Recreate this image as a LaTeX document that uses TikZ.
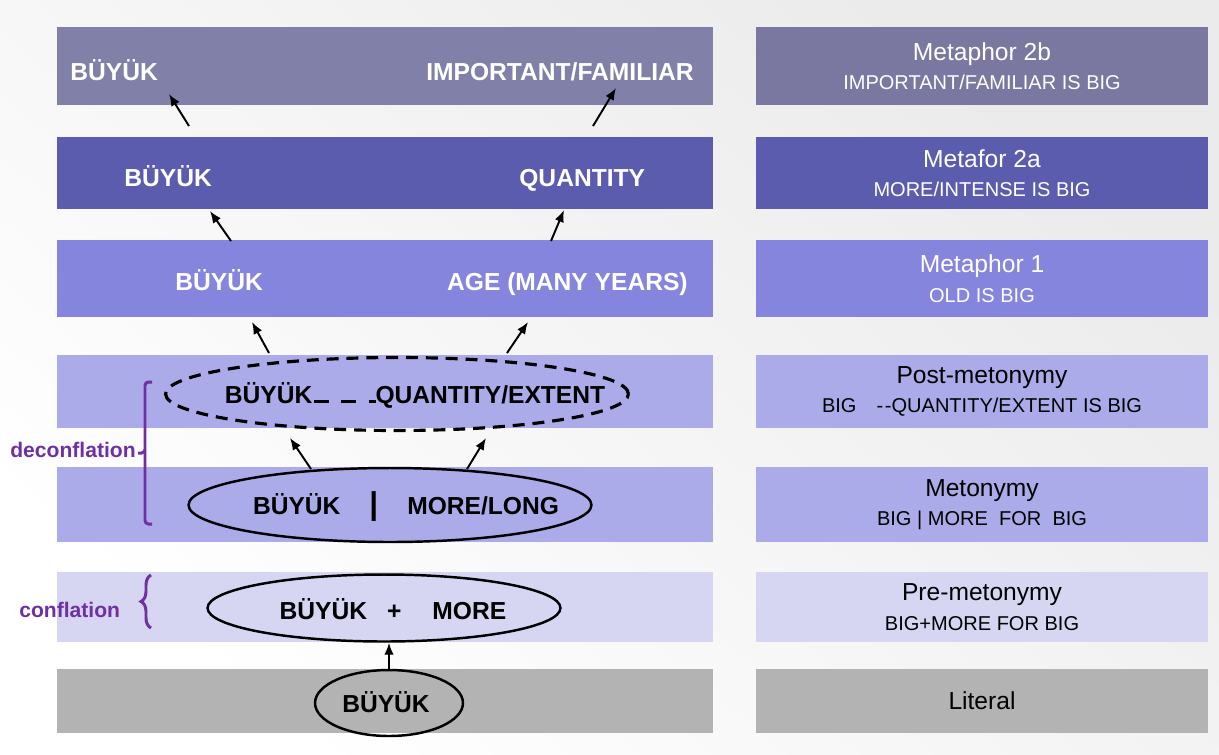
\documentclass[tikz,border=0pt]{standalone}
\usepackage{fontspec}
\setmainfont{Liberation Sans}
\usetikzlibrary{shapes.geometric, arrows.meta, decorations.pathreplacing}

\definecolor{rowA}{HTML}{8080A8}
\definecolor{rowAr}{HTML}{7A78A0}
\definecolor{rowB}{HTML}{5C5CAE}
\definecolor{rowC}{HTML}{8585DD}
\definecolor{rowD}{HTML}{ABABE9}
\definecolor{rowE}{HTML}{D6D6F3}
\definecolor{rowF}{HTML}{B3B3B3}
\definecolor{flation}{HTML}{7030A0}

\newcommand{\heading}[1]{{\fontsize{14}{17}\selectfont #1}}

\begin{document}
\begin{tikzpicture}[
    x=0.02cm, y=-0.02cm,
    band/.style={rectangle, minimum width=13.12cm, inner sep=0},
    rbox/.style={rectangle, minimum width=9.04cm, inner sep=0, align=center, font=\fontsize{11.4}{16.8}\selectfont},
    word/.style={inner sep=0, font=\fontsize{14}{17}\selectfont\bfseries},
    oval/.style={ellipse, draw=black, line width=1.4pt, inner sep=0},
    arrow/.style={-{Latex[length=2.4mm, width=1.9mm]}, line width=1.1pt},
    flbrace/.style={draw=flation, line width=1.7pt},
    fllabel/.style={inner sep=0, text=flation, font=\fontsize{12}{14}\selectfont\bfseries}
]
    % Background
    \useasboundingbox (0,0) rectangle (1219,754);
    \shade[top color=gray!16, bottom color=white, shading angle=-40] (0,0) rectangle (1219,754);

    % Bands (left)
    \node[band, fill=rowA, minimum height=1.56cm] (bandA) at (385,66) {};
    \node[band, fill=rowB, minimum height=1.44cm] (bandB) at (385,173) {};
    \node[band, fill=rowC, minimum height=1.54cm] (bandC) at (385,278.5) {};
    \node[band, fill=rowD, minimum height=1.46cm] (bandD) at (385,391.5) {};
    \node[band, fill=rowD, minimum height=1.5cm] (bandE) at (385,504.5) {};
    \node[band, fill=rowE, minimum height=1.4cm] (bandF) at (385,607) {};
    \node[band, fill=rowF, minimum height=1.28cm] (bandG) at (385,701) {};

    % Level boxes (right)
    \node[rbox, fill=rowAr, text=white, minimum height=1.56cm] (metA) at (982,66) {\heading{Metaphor 2b}\\IMPORTANT/FAMILIAR IS BIG};
    \node[rbox, fill=rowB, text=white, minimum height=1.44cm] (metB) at (982,173) {\heading{Metafor 2a}\\MORE/INTENSE IS BIG};
    \node[rbox, fill=rowC, text=white, minimum height=1.54cm] (metC) at (982,278.5) {\heading{Metaphor 1}\\OLD IS BIG};
    \node[rbox, fill=rowD, minimum height=1.46cm] (postm) at (982,391.5) {\heading{Post-metonymy}\\BIG\quad-\kern1pt-QUANTITY/EXTENT IS BIG};
    \node[rbox, fill=rowD, minimum height=1.5cm] (metm) at (982,504.5) {\heading{Metonymy}\\BIG | MORE\ \ FOR\ \ BIG};
    \node[rbox, fill=rowE, minimum height=1.4cm] (prem) at (982,607) {\heading{Pre-metonymy}\\BIG+MORE FOR BIG};
    \node[rbox, fill=rowF, minimum height=1.28cm] (literal) at (982,701) {\heading{Literal}};

    % Words in the bands
    \node[word, text=white, anchor=base west] (bigA) at (70,80) {BÜYÜK};
    \node[word, text=white, anchor=base east] (impA) at (694,80) {IMPORTANT/FAMILIAR};
    \node[word, text=white, anchor=base west] (bigB) at (124,186) {BÜYÜK};
    \node[word, text=white, anchor=base west] (quantB) at (519,186) {QUANTITY};
    \node[word, text=white, anchor=base west] (bigC) at (175,290) {BÜYÜK};
    \node[word, text=white, anchor=base east] (ageC) at (688,290) {AGE (MANY YEARS)};

    % Ellipses
    \node[oval, dash pattern=on 6.8pt off 4.5pt, line width=1.8pt, minimum width=9.26cm, minimum height=1.46cm] (post) at (397,394) {};
    \node[word, anchor=base] (postT) at (415,403) {BÜYÜK\hspace{1pt}\rule{8.5pt}{1.7pt}\hspace{7pt}\rule{8.5pt}{1.7pt}\hspace{7pt}\rule{4pt}{1.7pt}QUANTITY/EXTENT};
    \node[oval, minimum width=8.06cm, minimum height=1.48cm] (meto) at (390,505) {};
    \node[word, anchor=base] (metoT) at (406,514) {BÜYÜK\hspace{0.58cm}{\fontsize{18}{18}\selectfont|}\hspace{0.58cm}MORE/LONG};
    \node[oval, minimum width=7.06cm, minimum height=1.34cm] (pre) at (384,608) {};
    \node[word, anchor=base] (preT) at (393,619) {BÜYÜK\hspace{0.4cm}+\hspace{0.62cm}MORE};
    \node[oval, minimum width=2.96cm, minimum height=1.32cm] (lit) at (389,703) {};
    \node[word, anchor=base] (litT) at (386,712) {BÜYÜK};

    % Arrow ends
    \coordinate (metoL) at (311,469);
    \coordinate (metoR) at (467,469);
    \coordinate (postL) at (290,438);
    \coordinate (postR) at (486,438);
    \coordinate (postLt) at (269,353);
    \coordinate (postRt) at (507,353);
    \coordinate (cL) at (252,322);
    \coordinate (cR) at (528,322);
    \coordinate (cLt) at (231,241);
    \coordinate (cRt) at (551,241);
    \coordinate (bL) at (210,211);
    \coordinate (bR) at (564,210);
    \coordinate (bLt) at (189,126);
    \coordinate (bRt) at (593,126);
    \coordinate (aL) at (169,94);
    \coordinate (aR) at (616,88);

    % Arrows
    \draw[arrow] (lit.north) -- (lit.north |- pre.south);
    \draw[arrow] (metoL) -- (postL);
    \draw[arrow] (metoR) -- (postR);
    \draw[arrow] (postLt) -- (cL);
    \draw[arrow] (postRt) -- (cR);
    \draw[arrow] (cLt) -- (bL);
    \draw[arrow] (cRt) -- (bR);
    \draw[arrow] (bLt) -- (aL);
    \draw[arrow] (bRt) -- (aR);

    % Braces
    \draw[flbrace, rounded corners=2pt] (152,382) -- (145,382) -- (145,453) -- (138,453);
    \draw[flbrace, rounded corners=2pt] (145,450) -- (145,524) -- (152,524);
    \node[fllabel, anchor=east] (decon) at (136,450) {deconflation};
    \draw[flbrace, decorate, decoration={brace, amplitude=0.2cm}] (151,628) -- (151,575);
    \node[fllabel, anchor=west] (con) at (19,610) {conflation};
\end{tikzpicture}
\end{document}
